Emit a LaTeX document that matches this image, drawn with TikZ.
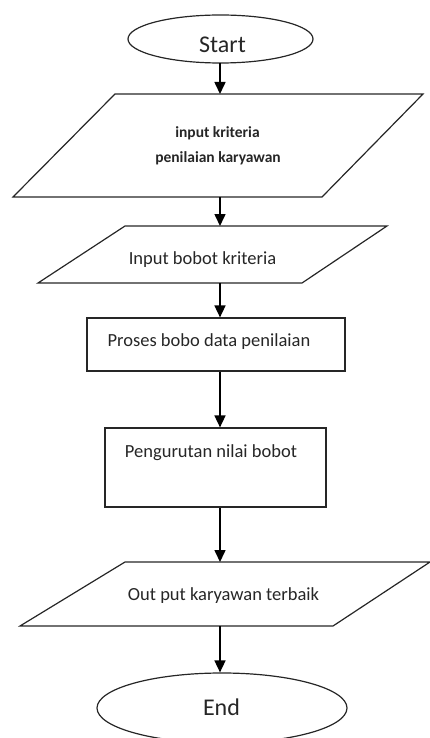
\documentclass[tikz,border=0pt]{standalone}
\usepackage{fontspec}
\setmainfont{Carlito}
\usetikzlibrary{arrows.meta,shapes.geometric}
\tikzset{
  shape line/.style={draw=black!85, line width=1.2pt},
  flow/.style={draw=black, line width=1.6pt, -{Triangle[width=11pt,length=12pt]}},
  lbl/.style={anchor=base, inner sep=0pt, text=black!85},
  term/.style={shape line, ellipse, inner sep=0pt},
}
\begin{document}
\begin{tikzpicture}[x=1pt,y=-1pt]
\useasboundingbox (0,0) rectangle (430,738);
% Start
\node[term, minimum width=185pt, minimum height=48pt] (start) at (220.5,39) {};
\node[lbl, font=\fontsize{24}{28}\selectfont] (starttxt) at (222.5,53) {Start};
% parallelogram 1
\draw[shape line] (115,94) -- (423,94) -- (322,197) -- (13,197) -- cycle;
\coordinate (p1t) at (220,94);
\coordinate (p1b) at (220,197);
\node[lbl, font=\bfseries\fontsize{15.5}{18}\selectfont] (p1a) at (217.5,138) {input kriteria};
\node[lbl, font=\bfseries\fontsize{15.5}{18}\selectfont] (p1c) at (218,163) {penilaian karyawan};
% parallelogram 2
\draw[shape line] (125,226) -- (387,226) -- (302,283) -- (38,283) -- cycle;
\coordinate (p2t) at (220,226);
\coordinate (p2b) at (220,283);
\node[lbl, font=\fontsize{18.5}{22}\selectfont] (p2txt) at (202.5,264.5) {Input bobot kriteria};
% rect 1
\node[shape line, rectangle, minimum width=258pt, minimum height=53pt, inner sep=0pt] (r1) at (216,344.5) {};
\node[lbl, font=\fontsize{18.5}{22}\selectfont] (r1txt) at (209,346) {Proses bobo data penilaian};
% rect 2
\node[shape line, rectangle, minimum width=221pt, minimum height=79pt, inner sep=0pt] (r2) at (215.5,467.5) {};
\node[lbl, font=\fontsize{18.5}{22}\selectfont] (r2txt) at (211,457) {Pengurutan nilai bobot};
% parallelogram 3
\draw[shape line] (125,562) -- (430,562) -- (333,626) -- (20,626) -- cycle;
\coordinate (p3t) at (220,562);
\coordinate (p3b) at (220,626);
\node[lbl, font=\fontsize{18.5}{22}\selectfont] (p3txt) at (223.5,600) {Out put karyawan terbaik};
% End
\node[term, minimum width=250pt, minimum height=70pt] (end) at (222,708) {};
\node[lbl, font=\fontsize{24}{28}\selectfont] (endtxt) at (221.5,715) {End};
% connectors
\draw[flow] (220,63) -- (p1t);
\draw[flow] (p1b) -- (p2t);
\draw[flow] (p2b) -- (r1.north -| p2b);
\draw[flow] (r1.south -| p2b) -- (r2.north -| p2b);
\draw[flow] (r2.south -| p2b) -- (p3t);
\draw[flow] (p3b) -- (end.north -| p3b);
\end{tikzpicture}
\end{document}
